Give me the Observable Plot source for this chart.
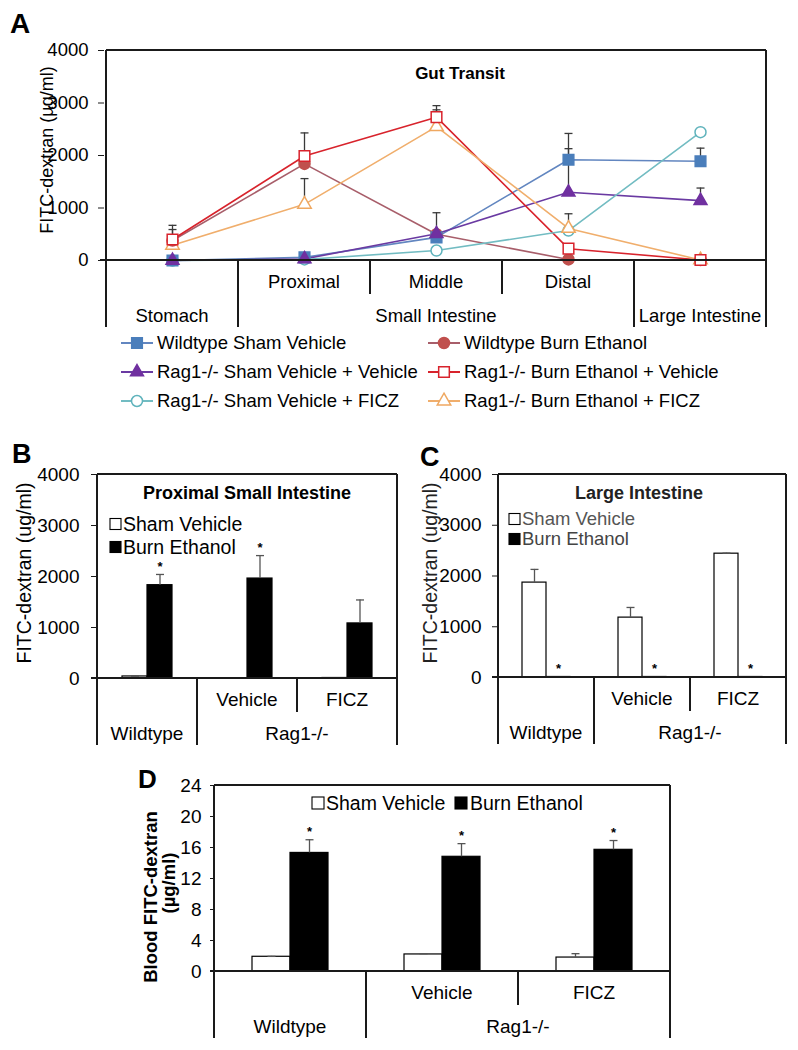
<!DOCTYPE html>
<html>
<head>
<meta charset="utf-8">
<script src="https://cdn.jsdelivr.net/npm/d3@7"></script>
<script src="https://cdn.jsdelivr.net/npm/@observablehq/plot@0.6"></script>
<style>
  html, body { margin: 0; padding: 0; background: #fff; }
  #wrap { position: relative; width: 798px; height: 1050px; background: #fff; overflow: hidden; }
  .panel { position: absolute; }
  .panel svg { display: block; overflow: visible; }
</style>
</head>
<body>
<div id="wrap"></div>
<script>
// ================= DATA =================
// Panel A — gut transit, FITC-dextran (µg/ml) per gut segment
const segments = ["Stomach", "Proximal", "Middle", "Distal", "Large Intestine"];
const segmentRow1 = ["", "Proximal", "Middle", "Distal", ""];
const segmentRow2 = [["Stomach", 0, 0], ["Small Intestine", 1, 3], ["Large Intestine", 4, 4]];
const seriesA = [
  "Wildtype Sham Vehicle", "Wildtype Burn Ethanol",
  "Rag1-/- Sham Vehicle + Vehicle", "Rag1-/- Burn Ethanol + Vehicle",
  "Rag1-/- Sham Vehicle + FICZ", "Rag1-/- Burn Ethanol + FICZ"
];
const wtShamVehicle  = [0, 60, 440, 1920, 1890];
const wtBurnEthanol  = [380, 1840, 500, 20, 10];
const ragShamVehicle = [0, 30, 510, 1300, 1140];
const ragBurnVehicle = [400, 1990, 2730, 225, 10];
const ragShamFICZ    = [0, 20, 190, 570, 2445];
const ragBurnFICZ    = [290, 1070, 2550, 610, 10];
// upper error bars
const wtShamVehicleErr  = [0, 0, 470, 500, 250];
const wtBurnEthanolErr  = [210, 0, 0, 0, 0];
const ragShamVehicleErr = [0, 0, 0, 830, 240];
const ragBurnVehicleErr = [270, 440, 220, 0, 0];
const ragShamFICZErr    = [0, 0, 0, 0, 20];
const ragBurnFICZErr    = [0, 490, 320, 280, 0];
const yTicksA = [0, 1000, 2000, 3000, 4000];

// Panels B, C, D — grouped bars
const groups = ["Wildtype", "Vehicle", "FICZ"];
const groupRow1 = ["", "Vehicle", "FICZ"];
const groupRow2 = [["Wildtype", 0, 0], ["Rag1-/-", 1, 2]];
const treatments = ["Sham Vehicle", "Burn Ethanol"];

// B — Proximal Small Intestine
const proxSham = [40, 5, 10];
const proxShamErr = [5, 0, 0];
const proxBurn = [1830, 1960, 1080];
const proxBurnErr = [210, 450, 460];
const proxShamStar = [false, false, false];
const proxBurnStar = [true, true, false];
const yTicksBC = [0, 1000, 2000, 3000, 4000];

// C — Large Intestine
const largeSham = [1870, 1180, 2440];
const largeShamErr = [260, 200, 10];
const largeBurn = [10, 10, 10];
const largeBurnErr = [0, 0, 0];
const largeShamStar = [false, false, false];
const largeBurnStar = [true, true, true];

// D — Blood FITC-dextran (µg/ml)
const bloodSham = [1.9, 2.2, 1.8];
const bloodShamErr = [0.05, 0.1, 0.5];
const bloodBurn = [15.3, 14.8, 15.7];
const bloodBurnErr = [1.7, 1.7, 1.2];
const bloodShamStar = [false, false, false];
const bloodBurnStar = [true, true, true];
const yTicksD = [0, 4, 8, 12, 16, 20, 24];

// ================= HELPERS =================
const FONT = '"Liberation Sans", Arial, Helvetica, sans-serif';
const INK = "#1a1a1a";
const plainFormat = d3.format("d");
const capSymbol = { draw(ctx, size) { const r = Math.sqrt(size / Math.PI); ctx.moveTo(-r, 0); ctx.lineTo(r, 0); } };
const wrap = document.getElementById("wrap");

function place(node, left, top) {
  const div = document.createElement("div");
  div.className = "panel";
  div.style.left = left + "px";
  div.style.top = top + "px";
  div.appendChild(node);
  wrap.appendChild(div);
}
function seg(g, x1, y1, x2, y2, stroke = INK, w = 1.3) {
  g.append("line").attr("x1", x1).attr("y1", y1).attr("x2", x2).attr("y2", y2)
    .attr("stroke", stroke).attr("stroke-width", w).attr("shape-rendering", "crispEdges");
}
function label(g, x, y, str, o = {}) {
  const t = g.append("text").attr("x", x).attr("y", y).attr("dy", "0.35em")
    .attr("text-anchor", o.anchor || "middle")
    .attr("font-family", FONT)
    .attr("font-size", o.size || 18)
    .attr("font-weight", o.weight || "normal")
    .attr("fill", o.fill || "#000")
    .text(str);
  if (o.rotate) t.attr("transform", `rotate(-90 ${x} ${y})`);
  return t;
}
const T = { row1: 21.5, row1Bottom: 34, row2: 55.5, bottom: 67 };

// ================= PANEL A =================
const styleA = [
  { line: "#6286c0", mark: "#4a7ebb", symbol: "square",   filled: true,  r: 6 },
  { line: "#a85e6a", mark: "#c0504d", symbol: "circle",   filled: true,  r: 5.5 },
  { line: "#6a3aa2", mark: "#7030a0", symbol: "triangle", filled: true,  r: 4.8 },
  { line: "#d8232c", mark: "#d8232c", symbol: "square",   filled: false, r: 6 },
  { line: "#72bcc2", mark: "#5fb3bc", symbol: "circle",   filled: false, r: 5.5 },
  { line: "#f0ae6c", mark: "#efa861", symbol: "triangle", filled: false, r: 5 }
];
const markerOrder = [4, 5, 1, 3, 0, 2];
const valuesA = [wtShamVehicle, wtBurnEthanol, ragShamVehicle, ragBurnVehicle, ragShamFICZ, ragBurnFICZ];
const errsA = [wtShamVehicleErr, wtBurnEthanolErr, ragShamVehicleErr, ragBurnVehicleErr, ragShamFICZErr, ragBurnFICZErr];
const rowsA = seriesA.map((s, i) => segments.map((sg, j) => ({ series: s, segment: sg, value: valuesA[i][j], err: errsA[i][j] })));

const LA = { w: 798, h: 420, ml: 104, mr: 31, mt: 50, mb: 160 };
const plotA = Plot.plot({
  width: LA.w, height: LA.h,
  marginLeft: LA.ml, marginRight: LA.mr, marginTop: LA.mt, marginBottom: LA.mb,
  style: { fontFamily: FONT, fontSize: "18.5px", color: "#000", background: "none", overflow: "visible" },
  x: { type: "point", domain: segments, padding: 0.5, axis: null },
  y: { domain: [0, 4000], axis: null },
  marks: [
    Plot.axisY(yTicksA, { tickSize: 6, tickPadding: 10, label: null, fontSize: 18.5, stroke: INK, tickFormat: plainFormat }),
    ...rowsA.flatMap((rows) => {
      const er = rows.filter(d => d.err > 0);
      return [
        Plot.ruleX(er, { x: "segment", y1: "value", y2: d => d.value + d.err, stroke: "#3a3a3a", strokeWidth: 1.3 }),
        Plot.dot(er, { x: "segment", y: d => d.value + d.err, symbol: capSymbol, r: 4, stroke: "#3a3a3a", strokeWidth: 1.3 })
      ];
    }),
    ...rowsA.map((rows, i) => Plot.line(rows, { x: "segment", y: "value", stroke: styleA[i].line, strokeWidth: 1.6 })),
    ...markerOrder.map((i) => Plot.dot(rowsA[i], {
      x: "segment", y: "value", symbol: styleA[i].symbol, r: styleA[i].r,
      fill: styleA[i].filled ? styleA[i].mark : "#fff", stroke: styleA[i].mark, strokeWidth: 1.5
    }))
  ]
});
{
  const svg = d3.select(plotA);
  const xs = plotA.scale("x"), ys = plotA.scale("y");
  const step = xs.apply(segments[1]) - xs.apply(segments[0]);
  const bounds = segments.map(s => xs.apply(s) - step / 2).concat([xs.apply(segments.at(-1)) + step / 2]);
  const left = bounds[0], right = bounds.at(-1);
  const top = ys.apply(ys.domain[1]), zero = ys.apply(0);
  const g = svg.append("g");
  seg(g, left, top, right, top);
  seg(g, left - 6, zero, right, zero);
  seg(g, left, top, left, zero + T.bottom);
  seg(g, right, top, right, zero + T.bottom);
  for (let i = 1; i < segments.length; i++) {
    const full = segmentRow2.some(([, a]) => a === i);
    seg(g, bounds[i], zero, bounds[i], zero + (full ? T.bottom : T.row1Bottom));
  }
  segmentRow1.forEach((t, i) => t && label(g, xs.apply(segments[i]), zero + T.row1, t, { size: 18.5 }));
  segmentRow2.forEach(([t, a, b]) => label(g, (bounds[a] + bounds[b + 1]) / 2, zero + T.row2, t, { size: 18.5 }));
  // titles
  label(g, 460, 73, "Gut Transit", { size: 17, weight: "bold" });
  label(g, 47, 150, "FITC-dextran (µg/ml)", { size: 18, rotate: true });
  label(g, 10, 23, "A", { size: 28, weight: "bold", anchor: "start" });
  // legend
  const colX = [121, 428], rowY = [343, 372, 401];
  seriesA.forEach((s, i) => {
    const x0 = colX[i % 2], y0 = rowY[Math.floor(i / 2)], st = styleA[i];
    seg(g, x0, y0, x0 + 32, y0, st.line, 1.6);
    const sym = { square: d3.symbolSquare, circle: d3.symbolCircle, triangle: d3.symbolTriangle }[st.symbol];
    g.append("path").attr("d", d3.symbol(sym, Math.PI * st.r * st.r)())
      .attr("transform", `translate(${x0 + 16},${y0})`)
      .attr("fill", st.filled ? st.mark : "#fff").attr("stroke", st.mark).attr("stroke-width", 1.5);
    label(g, x0 + 36, y0, s, { size: 18.5, anchor: "start" });
  });
}
place(plotA, 0, 0);

// ================= BAR PANELS =================
function barPanel(cfg) {
  const rows = cfg.groups.flatMap((gr, i) => [
    { group: gr, treatment: treatments[0], value: cfg.sham[i], err: cfg.shamErr[i], star: cfg.shamStar[i] },
    { group: gr, treatment: treatments[1], value: cfg.burn[i], err: cfg.burnErr[i], star: cfg.burnStar[i] }
  ]);
  const errRows = rows.filter(d => d.err > 0);
  const plot = Plot.plot({
    width: cfg.w, height: cfg.h,
    marginLeft: cfg.ml, marginRight: cfg.mr, marginTop: cfg.mt, marginBottom: cfg.mb,
    style: { fontFamily: FONT, fontSize: cfg.fontSize + "px", color: "#000", background: "none", overflow: "visible" },
    fx: { domain: cfg.groups, padding: 0, axis: null, label: null },
    x: { domain: treatments, paddingInner: 0, paddingOuter: 1, axis: null },
    y: { domain: [0, cfg.yMax], axis: null },
    marks: [
      Plot.axisY(cfg.yTicks, { tickSize: cfg.tickSize, tickPadding: cfg.tickPadding, label: null, fontSize: cfg.fontSize, stroke: INK, tickFormat: plainFormat }),
      Plot.barY(rows.filter(d => d.treatment === treatments[0]), { fx: "group", x: "treatment", y: "value", fill: "#fff", stroke: "#000", strokeWidth: 1.2 }),
      Plot.barY(rows.filter(d => d.treatment === treatments[1]), { fx: "group", x: "treatment", y: "value", fill: "#000", stroke: "#000", strokeWidth: 1.2 }),
      Plot.ruleX(errRows, { fx: "group", x: "treatment", y1: "value", y2: d => d.value + d.err, stroke: "#555", strokeWidth: 1.3 }),
      Plot.dot(errRows, { fx: "group", x: "treatment", y: d => d.value + d.err, symbol: capSymbol, r: 4, stroke: "#555", strokeWidth: 1.3 }),
      Plot.text(rows.filter(d => d.star), { fx: "group", x: "treatment", y: d => d.value + d.err, text: d => "*", dy: -8, fontSize: 13, fontWeight: "bold" })
    ]
  });
  const svg = d3.select(plot);
  const fx = plot.scale("fx"), ys = plot.scale("y");
  const bw = fx.bandwidth;
  const bounds = cfg.groups.map(gr => fx.apply(gr)).concat([fx.apply(cfg.groups.at(-1)) + bw]);
  const left = bounds[0], right = bounds.at(-1);
  const top = ys.apply(cfg.yMax), zero = ys.apply(0);
  const g = svg.append("g");
  seg(g, left, top, right, top);
  seg(g, left - cfg.tickSize, zero, right, zero);
  seg(g, left, top, left, zero + T.bottom);
  seg(g, right, top, right, zero + T.bottom);
  for (let i = 1; i < cfg.groups.length; i++) {
    const full = groupRow2.some(([, a]) => a === i);
    seg(g, bounds[i], zero, bounds[i], zero + (full ? T.bottom : T.row1Bottom));
  }
  groupRow1.forEach((t, i) => t && label(g, bounds[i] + bw / 2, zero + T.row1, t, { size: cfg.fontSize }));
  groupRow2.forEach(([t, a, b]) => label(g, (bounds[a] + bounds[b + 1]) / 2, zero + T.row2, t, { size: cfg.fontSize }));
  cfg.decorate(g, { left, right, top, zero });
  return plot;
}

function legendBox(g, x, y, filled, size = 11) {
  g.append("rect").attr("x", x).attr("y", y - size / 2).attr("width", size).attr("height", size)
    .attr("fill", filled ? "#000" : "#fff").attr("stroke", "#000").attr("stroke-width", 1.1);
}

// ---- B ----
place(barPanel({
  w: 400, h: 330, ml: 96, mr: 3, mt: 54, mb: 72,
  groups, sham: proxSham, shamErr: proxShamErr, burn: proxBurn, burnErr: proxBurnErr,
  shamStar: proxShamStar, burnStar: proxBurnStar,
  yMax: 4000, yTicks: yTicksBC, tickSize: 6, tickPadding: 12, fontSize: 19,
  decorate(g, f) {
    label(g, (f.left + f.right) / 2, 73, "Proximal Small Intestine", { size: 18, weight: "bold" });
    label(g, 24, 153, "FITC-dextran (ug/ml)", { size: 19.5, rotate: true });
    label(g, 12, 34, "B", { size: 27, weight: "bold", anchor: "start" });
    legendBox(g, 110, 104, false);
    label(g, 123, 104, treatments[0], { size: 19.5, anchor: "start" });
    legendBox(g, 110, 127, true);
    label(g, 123, 127, treatments[1], { size: 19.5, anchor: "start" });
  }
}), 0, 420);

// ---- C ----
place(barPanel({
  w: 398, h: 330, ml: 97, mr: 11, mt: 54, mb: 73,
  groups, sham: largeSham, shamErr: largeShamErr, burn: largeBurn, burnErr: largeBurnErr,
  shamStar: largeShamStar, burnStar: largeBurnStar,
  yMax: 4000, yTicks: yTicksBC, tickSize: 6, tickPadding: 11, fontSize: 19,
  decorate(g, f) {
    label(g, 239, 73, "Large Intestine", { size: 18, weight: "bold", fill: "#222" });
    label(g, 30, 153, "FITC-dextran (ug/ml)", { size: 19.5, rotate: true, fill: "#222" });
    label(g, 20, 37, "C", { size: 27, weight: "bold", anchor: "start" });
    legendBox(g, 109, 99, false);
    label(g, 122, 99, treatments[0], { size: 18.5, anchor: "start", fill: "#555" });
    legendBox(g, 109, 119, true);
    label(g, 122, 119, treatments[1], { size: 18.5, anchor: "start", fill: "#444" });
  }
}), 400, 420);

// ---- D ----
place(barPanel({
  w: 798, h: 300, ml: 213, mr: 128, mt: 35, mb: 79,
  groups, sham: bloodSham, shamErr: bloodShamErr, burn: bloodBurn, burnErr: bloodBurnErr,
  shamStar: bloodShamStar, burnStar: bloodBurnStar,
  yMax: 24, yTicks: yTicksD, tickSize: 4, tickPadding: 9, fontSize: 19,
  decorate(g, f) {
    label(g, 151, 147, "Blood FITC-dextran", { size: 18.5, weight: "bold", rotate: true });
    label(g, 169, 133, "(µg/ml)", { size: 18.5, weight: "bold", rotate: true });
    label(g, 138, 29, "D", { size: 26, weight: "bold", anchor: "start" });
    legendBox(g, 312, 53, false, 12);
    label(g, 326, 53, treatments[0], { size: 19.5, anchor: "start" });
    legendBox(g, 455, 53, true, 12);
    label(g, 470, 53, treatments[1], { size: 19.5, anchor: "start" });
  }
}), 0, 750);
</script>
</body>
</html>
